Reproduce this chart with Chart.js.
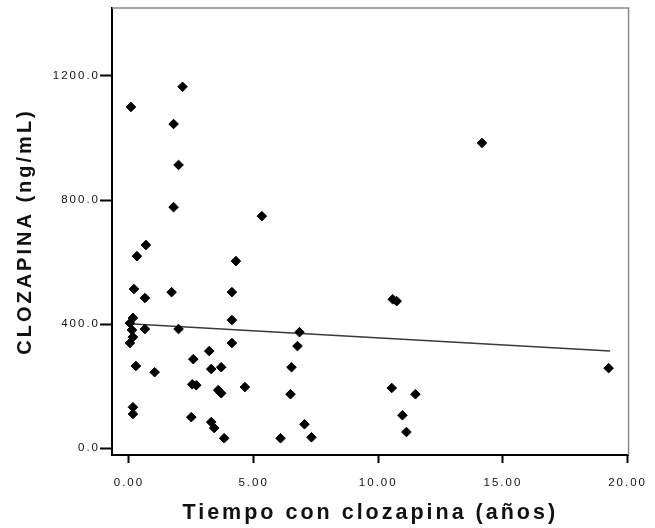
<!DOCTYPE html>
<html>
<head>
<meta charset="utf-8">
<script src="https://cdn.jsdelivr.net/npm/chart.js@4/dist/chart.umd.min.js"></script>
<style>
  html, body { margin: 0; padding: 0; background: #fff; }
  #wrap { width: 655px; height: 528px; position: relative; }
</style>
</head>
<body>
<div id="wrap"><canvas id="scatter"></canvas></div>
<script>
// Years on clozapine vs plasma clozapine level (ng/mL)
const years = [
  0.08, 2.15, 1.79, 1.99, 1.79, 5.33, 14.16, 0.68, 0.32, 4.29,
  0.20, 0.64, 1.71, 4.13, 4.13, 0.16, 0.04, 0.12, 0.16, 0.04,
  0.64, 1.99, 4.13, 3.22, 2.58, 0.28, 3.30, 3.70, 1.03, 2.54,
  2.70, 3.58, 3.70, 4.65, 0.16, 0.16, 2.50, 3.30, 3.42, 3.82,
  6.84, 6.76, 6.52, 6.48, 7.04, 7.32, 6.08, 10.58, 10.74, 10.54,
  11.49, 10.97, 11.13, 19.24
];
const levels = [
  1100, 1165, 1045, 913, 777, 748, 984, 655, 619, 603,
  513, 484, 503, 503, 413, 420, 403, 381, 358, 339,
  384, 384, 339, 313, 287, 265, 255, 261, 245, 206,
  203, 187, 177, 197, 132, 110, 100, 84, 65, 32,
  374, 329, 261, 174, 77, 35, 32, 480, 474, 194,
  174, 106, 52, 258
];

// linear fit line end points
const fitYears = [0.0, 19.3];
const fitLevels = [401, 313];

const xTicks = [0, 5, 10, 15, 20];
const yTicks = [0, 400, 800, 1200];

const points = years.map((x, i) => ({ x: x, y: levels[i] }));
const fitLine = fitYears.map((x, i) => ({ x: x, y: fitLevels[i] }));

// spaced-out lettering: wide for axis titles, a bit tighter for tick labels
// (tick labels sit on z:1 so they are drawn after the datasets)
const spacing = {
  id: 'spacing',
  beforeDraw(chart) { chart.ctx.letterSpacing = '3px'; },
  afterDatasetsDraw(chart) { chart.ctx.letterSpacing = '2px'; }
};

// grey top and right edges of the frame
const frame = {
  id: 'frame',
  afterDraw(chart) {
    const a = chart.chartArea;
    const ctx = chart.ctx;
    ctx.save();
    ctx.strokeStyle = '#8a8a8a';
    ctx.lineWidth = 1.5;
    ctx.beginPath();
    ctx.moveTo(a.left, a.top);
    ctx.lineTo(a.right, a.top);
    ctx.lineTo(a.right, a.bottom);
    ctx.stroke();
    ctx.restore();
  }
};

const tickFont = { family: 'Liberation Sans, Arial, sans-serif', size: 11.5 };

new Chart(document.getElementById('scatter'), {
  type: 'scatter',
  data: {
    datasets: [
      {
        data: points,
        pointStyle: 'rectRot',
        pointRadius: 4.8,
        pointBorderWidth: 1,
        backgroundColor: '#000',
        borderColor: '#000'
      },
      {
        type: 'line',
        data: fitLine,
        borderColor: '#3a3a3a',
        borderWidth: 1.5,
        pointRadius: 0,
        fill: false
      }
    ]
  },
  options: {
    responsive: true,
    maintainAspectRatio: false,
    animation: false,
    layout: { padding: { top: 8, right: 22, left: 0, bottom: 0 } },
    plugins: {
      legend: { display: false },
      tooltip: { enabled: false }
    },
    scales: {
      x: {
        type: 'linear',
        min: -0.68,
        max: 20.04,
        afterBuildTicks: s => { s.ticks = xTicks.map(v => ({ value: v })); },
        afterFit: s => { s.height = 73; },
        grid: { drawOnChartArea: false, drawTicks: true, tickLength: 8, tickWidth: 2, tickColor: '#000' },
        border: { color: '#000', width: 2 },
        ticks: {
          z: 1,
          color: '#111',
          font: tickFont,
          padding: 13,
          maxRotation: 0,
          callback: v => v.toFixed(2)
        },
        title: {
          display: true,
          text: 'Tiempo con clozapina (años)',
          color: '#111',
          font: { family: 'Liberation Sans, Arial, sans-serif', size: 21.5, weight: 'bold' },
          padding: { top: 0, bottom: 2 }
        }
      },
      y: {
        type: 'linear',
        min: -22,
        max: 1419,
        afterBuildTicks: s => { s.ticks = yTicks.map(v => ({ value: v })); },
        afterFit: s => { s.width = 112; },
        grid: { drawOnChartArea: false, drawTicks: true, tickLength: 12, tickWidth: 2, tickColor: '#000' },
        border: { color: '#000', width: 2 },
        ticks: {
          z: 1,
          color: '#111',
          font: tickFont,
          padding: 0,
          callback: v => v.toFixed(1)
        },
        title: {
          display: true,
          text: 'CLOZAPINA (ng/mL)',
          color: '#111',
          font: { family: 'Liberation Sans, Arial, sans-serif', size: 20, weight: 'bold' },
          padding: { top: 13, bottom: 0 }
        }
      }
    }
  },
  plugins: [spacing, frame]
});
</script>
</body>
</html>
